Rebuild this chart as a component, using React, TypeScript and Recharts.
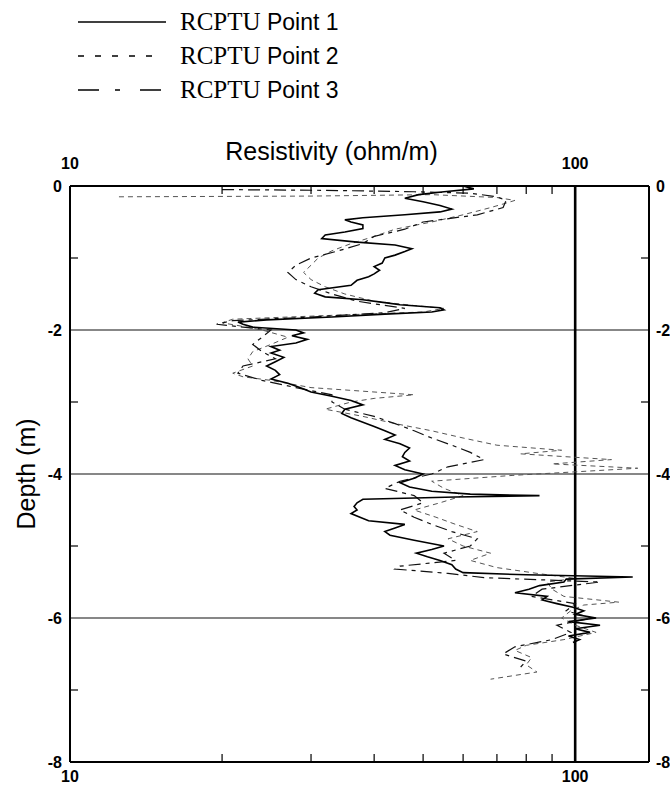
import React from 'react';
import { ScatterChart, Scatter, XAxis, YAxis, ReferenceLine, Legend } from 'recharts';

// RCPTU Point 1 (solid)
const depth1 = [0, -0.04, -0.08, -0.12, -0.17, -0.22, -0.27, -0.32, -0.36, -0.4, -0.44, -0.47, -0.5, -0.54, -0.59, -0.64, -0.68, -0.73, -0.78, -0.82, -0.87, -0.91, -0.96, -1.0, -1.07, -1.12, -1.17, -1.22, -1.26, -1.31, -1.38, -1.44, -1.49, -1.54, -1.58, -1.62, -1.65, -1.69, -1.72, -1.75, -1.78, -1.82, -1.86, -1.89, -1.92, -1.96, -2.0, -2.04, -2.08, -2.13, -2.18, -2.23, -2.28, -2.32, -2.38, -2.44, -2.5, -2.56, -2.62, -2.68, -2.74, -2.8, -2.86, -2.92, -2.98, -3.04, -3.1, -3.16, -3.22, -3.28, -3.34, -3.4, -3.46, -3.52, -3.58, -3.64, -3.7, -3.76, -3.82, -3.88, -3.94, -4.0, -4.06, -4.12, -4.18, -4.24, -4.28, -4.3, -4.32, -4.35, -4.4, -4.45, -4.5, -4.55, -4.6, -4.65, -4.7, -4.75, -4.8, -4.85, -4.92, -5.0, -5.05, -5.1, -5.15, -5.2, -5.26, -5.32, -5.37, -5.4, -5.43, -5.46, -5.5, -5.55, -5.6, -5.65, -5.7, -5.75, -5.8, -5.85, -5.9, -5.95, -6.0, -6.05, -6.1, -6.15, -6.2, -6.25, -6.3, -6.34];
const res1 = [60, 63, 55, 49, 46, 50, 54, 57, 54, 46, 38, 35, 36, 38, 38, 35, 32, 31.5, 37, 44, 47.5, 46, 44, 42, 41.5, 40, 41, 40, 39, 37, 36, 31, 30.5, 32, 38, 42, 45, 54, 55, 52, 42, 33, 24.5, 21.5, 22, 23, 28, 29, 27.5, 29.5, 28, 25, 26, 25, 26.5, 25.5, 24.5, 25.5, 26, 25, 27, 28.5, 30, 33, 36, 38, 35, 34.5, 36, 38, 40, 42, 44, 42, 45, 47, 46, 45.5, 47, 44, 46, 50, 48, 45, 47, 52, 62, 85, 58, 38, 37, 36.5, 37, 36, 37.5, 39, 46, 44, 42, 43, 48, 55, 52, 48.5, 51, 54, 57, 58, 60, 80, 130, 96, 95, 85, 81, 76, 88, 86, 92, 99, 104, 100, 110, 97, 112, 100, 107, 97, 102, 99];

// RCPTU Point 2 (short dashes)
const depth2 = [-0.15, -0.14, -0.12, -0.16, -0.2, -0.25, -0.3, -0.4, -0.5, -0.6, -0.7, -0.8, -0.9, -1.0, -1.1, -1.2, -1.3, -1.4, -1.5, -1.6, -1.66, -1.7, -1.75, -1.8, -1.85, -1.9, -1.95, -2.0, -2.1, -2.2, -2.3, -2.4, -2.5, -2.6, -2.65, -2.7, -2.8, -2.85, -2.9, -2.95, -3.0, -3.1, -3.2, -3.3, -3.4, -3.5, -3.6, -3.67, -3.72, -3.8, -3.86, -3.92, -3.97, -4.02, -4.1, -4.2, -4.3, -4.4, -4.5, -4.6, -4.7, -4.8, -4.9, -5.0, -5.1, -5.2, -5.3, -5.38, -5.45, -5.5, -5.6, -5.7, -5.78, -5.82, -5.9, -6.0, -6.1, -6.2, -6.3, -6.38, -6.45, -6.55, -6.65, -6.75, -6.85];
const res2 = [12.5, 30, 52, 70, 76, 72, 68, 60, 52, 44, 40, 36, 33, 31, 30, 29, 30, 32, 35, 40, 48, 55, 50, 32, 21, 20, 22, 24, 27, 25, 23, 22.5, 23, 21, 22, 25, 30, 38, 48, 40, 36, 32, 38, 44, 52, 60, 70, 94, 78, 118, 90, 133, 100, 75, 52, 55, 60, 54, 48, 53, 58, 64, 56, 60, 68, 62, 70, 84, 100, 88, 90, 95, 122, 104, 98, 94, 100, 110, 95, 80, 76, 82, 80, 84, 68];

// RCPTU Point 3 (long-short dashes)
const depth3 = [-0.05, -0.06, -0.08, -0.1, -0.15, -0.2, -0.3, -0.4, -0.5, -0.6, -0.7, -0.8, -0.9, -1.0, -1.1, -1.2, -1.3, -1.4, -1.5, -1.6, -1.7, -1.76, -1.82, -1.87, -1.92, -2.0, -2.1, -2.2, -2.3, -2.4, -2.5, -2.6, -2.7, -2.8, -2.9, -3.0, -3.1, -3.2, -3.3, -3.4, -3.5, -3.6, -3.7, -3.8, -3.9, -4.0, -4.1, -4.2, -4.3, -4.4, -4.5, -4.6, -4.7, -4.8, -4.9, -5.0, -5.1, -5.2, -5.28, -5.32, -5.38, -5.44, -5.5, -5.6, -5.7, -5.8, -5.9, -6.0, -6.1, -6.2, -6.3, -6.4, -6.5, -6.6, -6.68];
const res3 = [20, 32, 48, 62, 70, 73, 72, 64, 50, 46, 40, 38, 34, 30, 28, 27, 28, 30, 33, 37, 46, 42, 30, 21, 19.5, 25, 24, 23, 24, 25.5, 22, 21.5, 24, 28, 33, 33, 35, 40, 44, 48, 52, 57, 62, 66, 56, 52, 45, 42, 48, 50, 45, 48, 52, 57, 64, 62, 55, 58, 45, 44, 56, 66, 112, 86, 82, 100, 96, 108, 92, 98, 90, 76, 72, 80, 78];

const seriesNames = ['Point 1', 'Point 2', 'Point 3'];
const xTicks = [10, 20, 30, 40, 50, 60, 70, 80, 90, 100];
const xLabels = [10, 100];
const yTicks = [0, -1, -2, -3, -4, -5, -6, -7, -8];
const yLabels = [0, -2, -4, -6, -8];
const gridDepths = [-2, -4, -6];

const toPoints = (d: number[], r: number[]) => d.map((v, i) => ({ d: v, r: r[i] }));
const pts1 = toPoints(depth1, res1);
const pts2 = toPoints(depth2, res2);
const pts3 = toPoints(depth3, res3);

const SANS = '"Liberation Sans", Arial, sans-serif';
const SERIF = '"Liberation Serif", "Times New Roman", serif';
const noDot = () => <g />;

const legendDash = [undefined, '6 11', '21 16 5 20'];
const legendEnd = [166, 154, 162];

const renderLegend = () => (
  <svg width={400} height={110}>
    {seriesNames.map((name, i) => {
      const y = 22 + i * 34;
      return (
        <g key={name}>
          <line x1={78} x2={legendEnd[i]} y1={y} y2={y} stroke="#000" strokeWidth={1.3} strokeDasharray={legendDash[i]} />
          <text x={180} y={y + 8} fill="#000">
            <tspan style={{ fontFamily: SERIF, fontSize: 25 }}>RCPTU</tspan>
            <tspan style={{ fontFamily: SANS, fontSize: 23 }}> {name}</tspan>
          </text>
        </g>
      );
    })}
  </svg>
);

const tickText = { fontFamily: SANS, fontSize: 16, fontWeight: 700, fill: '#000' };

const BottomTick = (p: any) => {
  const v = p.payload.value;
  return (
    <g>
      {v !== 10 && v !== 100 && <line x1={p.x} x2={p.x} y1={p.y} y2={p.y - 8} stroke="#000" strokeWidth={1.2} />}
      {xLabels.includes(v) && <text x={p.x} y={p.y + 20} textAnchor="middle" {...tickText}>{v}</text>}
    </g>
  );
};

const TopTick = (p: any) => {
  const v = p.payload.value;
  return (
    <g>
      {v !== 10 && v !== 100 && <line x1={p.x} x2={p.x} y1={p.y} y2={p.y + 8} stroke="#000" strokeWidth={1.2} />}
      {xLabels.includes(v) && <text x={p.x} y={p.y - 17} textAnchor="middle" {...tickText}>{v}</text>}
    </g>
  );
};

const LeftTick = (p: any) => {
  const v = p.payload.value;
  return (
    <g>
      {v % 2 !== 0 && <line x1={p.x} x2={p.x + 8} y1={p.y} y2={p.y} stroke="#000" strokeWidth={1.2} />}
      {yLabels.includes(v) && <text x={p.x - 8} y={p.y + 6} textAnchor="end" {...tickText}>{v}</text>}
    </g>
  );
};

const RightTick = (p: any) => {
  const v = p.payload.value;
  return (
    <g>
      {v % 2 !== 0 && <line x1={p.x} x2={p.x - 8} y1={p.y} y2={p.y} stroke="#000" strokeWidth={1.2} />}
      {yLabels.includes(v) && <text x={p.x + 7} y={p.y + 6} textAnchor="start" {...tickText}>{v}</text>}
    </g>
  );
};

const TitleLabel = (p: any) => {
  const vb = p.viewBox;
  return (
    <text x={vb.x + vb.width / 2 - 28} y={vb.y + vb.height - 26} textAnchor="middle" fontFamily={SANS} fontSize={25} fill="#000">
      Resistivity (ohm/m)
    </text>
  );
};

const DepthLabel = (p: any) => {
  const vb = p.viewBox;
  const cy = vb.y + vb.height / 2;
  return (
    <text x={26} y={cy} textAnchor="middle" dominantBaseline="central" transform={`rotate(-90, 26, ${cy})`} fontFamily={SANS} fontSize={25} fill="#000">
      Depth (m)
    </text>
  );
};

const axisLine = { stroke: '#000', strokeWidth: 2 };

export default function App() {
  return (
    <div style={{ position: 'absolute', left: 0, top: 0, width: 670, height: 787, background: '#fff' }}>
      <ScatterChart width={670} height={787} margin={{ top: 126, right: 0, bottom: 0, left: 0 }}>
        <XAxis xAxisId="b" type="number" dataKey="r" scale="log" domain={[10, 140]} allowDataOverflow ticks={xTicks} interval={0}
          orientation="bottom" height={25} tick={BottomTick} tickLine={false} tickSize={0} tickMargin={0} axisLine={axisLine} />
        <XAxis xAxisId="t" type="number" dataKey="r" scale="log" domain={[10, 140]} allowDataOverflow ticks={xTicks} interval={0}
          orientation="top" height={60} tick={TopTick} tickLine={false} tickSize={0} tickMargin={0} axisLine={axisLine} label={TitleLabel} />
        <YAxis yAxisId="l" type="number" dataKey="d" domain={[-8, 0]} allowDataOverflow ticks={yTicks} interval={0}
          orientation="left" width={70} tick={LeftTick} tickLine={false} tickSize={0} tickMargin={0} axisLine={axisLine} label={DepthLabel} />
        <YAxis yAxisId="r" type="number" dataKey="d" domain={[-8, 0]} allowDataOverflow ticks={yTicks} interval={0}
          orientation="right" width={21} tick={RightTick} tickLine={false} tickSize={0} tickMargin={0} axisLine={axisLine} />

        {gridDepths.map((g) => (
          <ReferenceLine key={g} xAxisId="b" yAxisId="l" y={g} stroke="#111" strokeWidth={1.2} />
        ))}
        <ReferenceLine xAxisId="b" yAxisId="l" x={100} stroke="#000" strokeWidth={2.6} />

        <Scatter name="RCPTU Point 2" data={pts2} xAxisId="b" yAxisId="l" shape={noDot} isAnimationActive={false}
          line={{ stroke: '#555', strokeWidth: 1, strokeDasharray: '5 4' }} lineType="joint" />
        <Scatter name="RCPTU Point 3" data={pts3} xAxisId="b" yAxisId="l" shape={noDot} isAnimationActive={false}
          line={{ stroke: '#111', strokeWidth: 1.2, strokeDasharray: '12 5 4 5' }} lineType="joint" />
        <Scatter name="RCPTU Point 1" data={pts1} xAxisId="b" yAxisId="l" shape={noDot} isAnimationActive={false}
          line={{ stroke: '#000', strokeWidth: 1.6 }} lineType="joint" />
        <Scatter data={pts1} xAxisId="t" yAxisId="r" shape={noDot} isAnimationActive={false} legendType="none" />

        <Legend layout="vertical" align="center" verticalAlign="middle" content={renderLegend}
          wrapperStyle={{ top: 0, left: 0, width: 400, height: 110 }} />
      </ScatterChart>
    </div>
  );
}
